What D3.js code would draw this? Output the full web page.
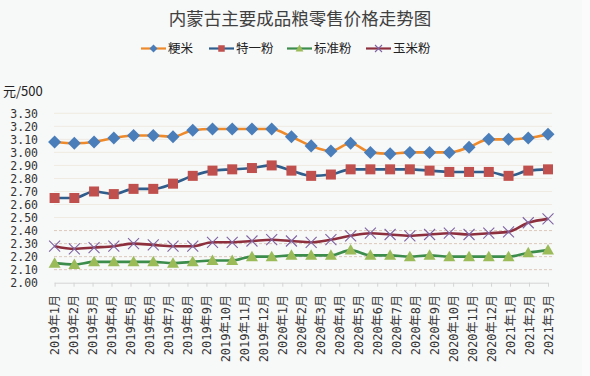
<!DOCTYPE html>
<html><head><meta charset="utf-8">
<script src="https://cdn.jsdelivr.net/npm/d3@7/dist/d3.min.js"></script>
<style>
html,body{margin:0;padding:0;background:#f7f8f8;}
svg{display:block;}
</style></head>
<body>
<script>
const months = ["2019年1月","2019年2月","2019年3月","2019年4月","2019年5月","2019年6月","2019年7月","2019年8月","2019年9月","2019年10月","2019年11月","2019年12月","2020年1月","2020年2月","2020年3月","2020年4月","2020年5月","2020年6月","2020年7月","2020年8月","2020年9月","2020年10月","2020年11月","2020年12月","2021年1月","2021年2月","2021年3月"];
// The reference plots 26 points spread evenly from the first to the last category tick.
const rice     = [3.08,3.07,3.08,3.11,3.13,3.13,3.12,3.17,3.18,3.18,3.18,3.18,3.12,3.05,3.01,3.07,3.00,2.99,3.00,3.00,3.00,3.04,3.10,3.10,3.11,3.14];
const flour1   = [2.65,2.65,2.70,2.68,2.72,2.72,2.76,2.82,2.86,2.87,2.88,2.90,2.86,2.82,2.83,2.87,2.87,2.87,2.87,2.86,2.85,2.85,2.85,2.82,2.86,2.87];
const stdFlour = [2.15,2.14,2.16,2.16,2.16,2.16,2.15,2.16,2.17,2.17,2.20,2.20,2.21,2.21,2.21,2.25,2.21,2.21,2.20,2.21,2.20,2.20,2.20,2.20,2.23,2.25];
const corn     = [2.28,2.26,2.27,2.28,2.30,2.29,2.28,2.28,2.31,2.31,2.32,2.33,2.32,2.31,2.33,2.36,2.38,2.37,2.36,2.37,2.38,2.37,2.38,2.39,2.46,2.49];
const yTicks = [2.00,2.10,2.20,2.30,2.40,2.50,2.60,2.70,2.80,2.90,3.00,3.10,3.20,3.30];
const seriesNames = ["粳米","特一粉","标准粉","玉米粉"];

const W = 590, H = 376;
const svg = d3.select("body").append("svg").attr("width", W).attr("height", H);
svg.append("rect").attr("width", W).attr("height", H).attr("fill", "#f7f8f8");
svg.append("rect").attr("x", 582).attr("width", W-582).attr("height", H).attr("fill", "#fbfbfb");

const x = d3.scalePoint().domain(months).range([54.6, 548]);
const xp = d3.scalePoint().domain(d3.range(rice.length)).range([54.6, 548]);
const y = d3.scaleLinear().domain([2.0, 3.3]).range([282.7, 113.3]);

// grid
const dashed = v => v > 2.05 && v < 2.45;
svg.append("g").selectAll("line").data(yTicks.filter(v => v > 2.0)).join("line")
  .attr("x1", 54).attr("x2", 552)
  .attr("y1", d => y(d)).attr("y2", d => y(d))
  .attr("stroke", d => dashed(d) ? "#dcc9bc" : "#efebe2")
  .attr("stroke-width", 1)
  .attr("stroke-dasharray", d => dashed(d) ? "3,2" : null);

// y axis labels
const yAxis = d3.axisLeft(y).tickValues(yTicks).tickFormat(d3.format(".2f")).tickSize(0).tickPadding(0);
const gy = svg.append("g").attr("transform", "translate(38,0)").call(yAxis);
gy.select(".domain").remove();
gy.selectAll("text").attr("font-family", "'DejaVu Sans Mono', monospace").attr("font-size", 11.5).attr("fill", "#333").attr("dy", "0.35em");

// x axis
const xAxis = d3.axisBottom(x).tickSize(4).tickPadding(0).tickFormat("");
const gx = svg.append("g").attr("transform", "translate(0,282.7)").call(xAxis);
gx.select(".domain").attr("stroke", "#d4d4d4").attr("d", `M${x(months[0])},0.5H${x(months[months.length-1])}`);
gx.selectAll(".tick line").attr("stroke", "#d4d4d4");
svg.append("g").selectAll("text").data(months).join("text")
  .attr("transform", d => `translate(${x(d)+4.5},295) rotate(-90)`)
  .attr("text-anchor", "end")
  .attr("font-family", "'DejaVu Sans Mono', 'Noto Sans CJK SC', monospace")
  .attr("font-size", 12)
  .attr("fill", "#333")
  .text(d => d);

// unit label
svg.append("text").attr("x", 3).attr("y", 96).attr("font-family", "'Noto Sans CJK SC', sans-serif").attr("font-size", 13).attr("fill", "#222").text("元/500");

// title
svg.append("text").attr("x", 300).attr("y", 25).attr("text-anchor", "middle")
  .attr("font-family", "'Noto Sans CJK SC', sans-serif").attr("font-size", 17.5).attr("fill", "#404040").text("内蒙古主要成品粮零售价格走势图");

const lineGen = d3.line().x((d, i) => xp(i)).y(d => y(d)).curve(d3.curveMonotoneX);

const defs = [
  {name: seriesNames[0], data: rice, line: "#ef8a2a", mark: "#4a7ebb", shape: "diamond"},
  {name: seriesNames[1], data: flour1, line: "#2f5d8c", mark: "#c0504d", shape: "square"},
  {name: seriesNames[2], data: stdFlour, line: "#3c8c4c", mark: "#9bbb59", shape: "triangle"},
  {name: seriesNames[3], data: corn, line: "#8e2f3e", mark: "#8064a2", shape: "x"}
];

function drawMarker(g, shape, color, cx, cy, s) {
  if (shape === "diamond") {
    g.append("path").attr("d", `M${cx},${cy-s*0.62}L${cx+s*0.62},${cy}L${cx},${cy+s*0.62}L${cx-s*0.62},${cy}Z`).attr("fill", color);
  } else if (shape === "square") {
    g.append("rect").attr("x", cx - s/2).attr("y", cy - s/2).attr("width", s).attr("height", s).attr("fill", color);
  } else if (shape === "triangle") {
    g.append("path").attr("d", `M${cx},${cy-s*0.6}L${cx+s*0.6},${cy+s*0.45}L${cx-s*0.6},${cy+s*0.45}Z`).attr("fill", color);
  } else {
    const h = s*0.5;
    g.append("path").attr("d", `M${cx-h},${cy-h}L${cx+h},${cy+h}M${cx-h},${cy+h}L${cx+h},${cy-h}`).attr("stroke", color).attr("stroke-width", 1.1).attr("fill", "none");
  }
}

defs.slice().reverse().forEach(s => {
  svg.append("path").datum(s.data).attr("d", lineGen).attr("fill", "none").attr("stroke", s.line).attr("stroke-width", 2.6);
});
defs.forEach(s => {
  const g = svg.append("g");
  s.data.forEach((v, i) => drawMarker(g, s.shape, s.mark, xp(i), y(v), s.shape === "x" ? 11 : (s.shape === "diamond" ? 10.5 : 10)));
});

// legend
const legX = [141, 209, 287, 366];
defs.forEach((s, i) => {
  const g = svg.append("g");
  g.append("line").attr("x1", legX[i]).attr("x2", legX[i] + 25).attr("y1", 48.5).attr("y2", 48.5).attr("stroke", s.line).attr("stroke-width", 2.2);
  drawMarker(g, s.shape, s.mark, legX[i] + 12.5, 48.5, s.shape === "x" ? 7 : 6.5);
  g.append("text").attr("x", legX[i] + 27).attr("y", 53).attr("font-family", "'Noto Sans CJK SC', sans-serif").attr("font-size", 12.5).attr("fill", "#222").text(s.name);
});
</script>
</body></html>
